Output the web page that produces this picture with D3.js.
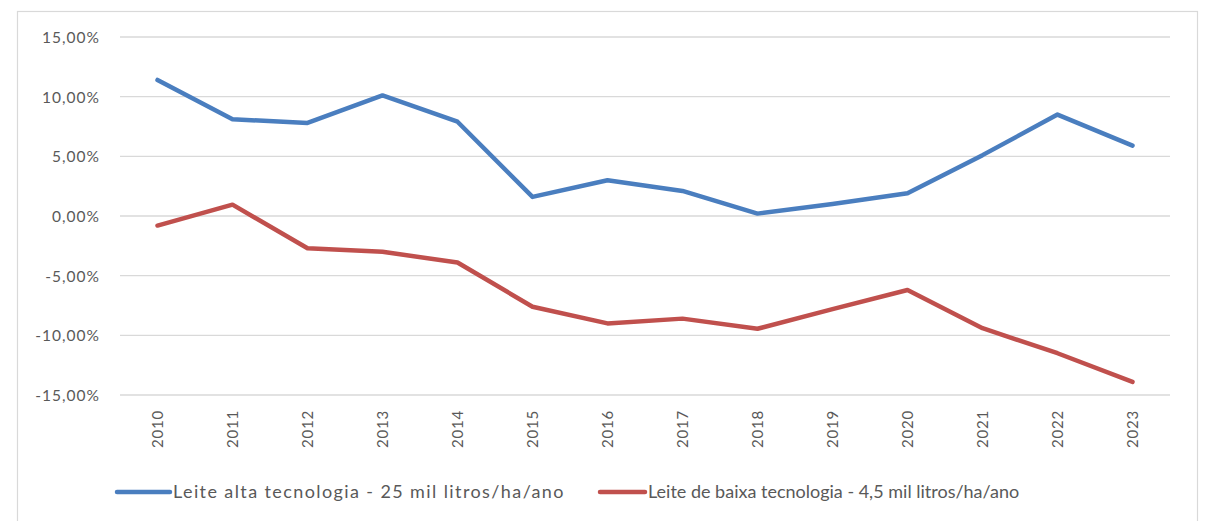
<!DOCTYPE html>
<html><head><meta charset="utf-8">
<script src="https://cdn.jsdelivr.net/npm/d3@7"></script>
<style>body{margin:0;background:#fff}svg{display:block}text{font-family:Lato,"Open Sans",sans-serif}</style>
</head><body><svg id="c" width="1206" height="521"></svg>
<script>
const years = ["2010","2011","2012","2013","2014","2015","2016","2017","2018","2019","2020","2021","2022","2023"];
const altaTec = [11.4, 8.1, 7.8, 10.1, 7.9, 1.6, 3.0, 2.1, 0.2, 1.0, 1.9, 5.1, 8.5, 5.9];
const baixaTec = [-0.8, 0.95, -2.7, -3.0, -3.9, -7.6, -9.0, -8.6, -9.45, -7.8, -6.2, -9.4, -11.5, -13.9];
const yTicks = [-15, -10, -5, 0, 5, 10, 15];
const seriesNames = ["Leite alta tecnologia - 25 mil litros/ha/ano", "Leite de baixa tecnologia - 4,5 mil litros/ha/ano"];
const seriesColors = ["#4A7EBF", "#C0504D"];

const svg = d3.select("#c");
svg.append("rect").attr("x",17.5).attr("y",11.5).attr("width",1180).attr("height",530)
  .attr("fill","#fff").attr("stroke","#d9d9d9").attr("stroke-width",1.2);

const x = d3.scalePoint().domain(years).range([120,1170]).padding(0.5);
const y = d3.scaleLinear().domain([-15,15]).range([395,37]);
const fmt = v => d3.format(".2f")(v).replace(".", ",").replace("\u2212", "-") + "%";

// gridlines
svg.append("g").selectAll("line").data(yTicks).join("line")
  .attr("x1",120).attr("x2",1170).attr("y1",d=>y(d)).attr("y2",d=>y(d))
  .attr("stroke","#d9d9d9").attr("stroke-width",1.3);

// y axis labels
const yAxis = d3.axisLeft(y).tickValues(yTicks).tickFormat(fmt).tickSize(0).tickPadding(0);
const yg = svg.append("g").attr("transform","translate(100,0)").call(yAxis);
yg.select(".domain").remove();
yg.selectAll("text").attr("fill","#595959").style("font-size","15.5px").style("letter-spacing","1px").attr("dy","0.35em");

// x axis labels
const xAxis = d3.axisBottom(x).tickSize(0).tickPadding(0);
const xg = svg.append("g").attr("transform","translate(0,410)").call(xAxis);
xg.select(".domain").remove();
xg.selectAll("text").attr("fill","#595959").style("font-size","15px").style("letter-spacing","0.8px")
  .attr("transform","rotate(-90)").attr("text-anchor","end").attr("x",0).attr("y",0).attr("dy","0.35em");

// lines
const line = d3.line().x((d,i)=>x(years[i])).y(d=>y(d));
[altaTec, baixaTec].forEach((s,k)=>{
  svg.append("path").datum(s).attr("d",line).attr("fill","none")
    .attr("stroke",seriesColors[k]).attr("stroke-width",4.5)
    .attr("stroke-linejoin","round").attr("stroke-linecap","round");
});

// legend
const legX = [117, 600], legLen = [53, 45], legSpacing = [1.4, 0];
const lg = svg.append("g");
seriesNames.forEach((n,k)=>{
  lg.append("line").attr("x1",legX[k]).attr("x2",legX[k]+legLen[k]).attr("y1",492).attr("y2",492)
    .attr("stroke",seriesColors[k]).attr("stroke-width",4.5).attr("stroke-linecap","round");
  lg.append("text").attr("x",legX[k]+legLen[k]+3).attr("y",492).attr("dy","0.35em")
    .attr("fill","#595959").style("font-size","18px").style("letter-spacing",legSpacing[k]+"px").text(n);
});
</script></body></html>
